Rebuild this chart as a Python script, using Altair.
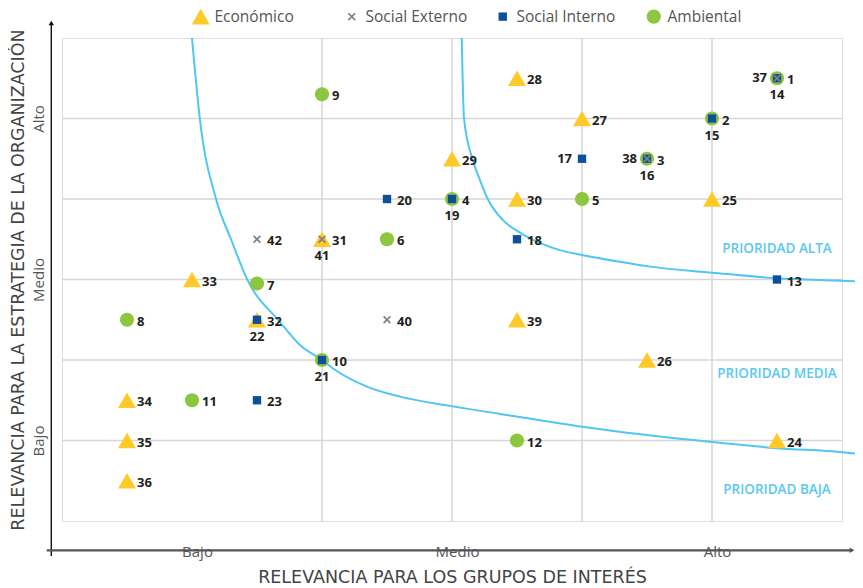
import altair as alt
import pandas as pd

# ---------------- data ----------------
amb_ids = [1, 2, 3, 4, 5, 6, 7, 8, 9, 10, 11, 12]
amb_x = [11, 10, 9, 6, 8, 5, 3, 1, 4, 4, 2, 7]
amb_y = [11, 10, 9, 8, 8, 7, 5.9, 5, 10.6, 4, 3, 2]
amb_pos = ["r"] * 12

eco_ids = [24, 25, 26, 27, 28, 29, 30, 31, 32, 33, 34, 35, 36, 39]
eco_x = [11, 10, 9, 8, 7, 6, 7, 4, 3, 2, 1, 1, 1, 7]
eco_y = [2, 8, 4, 10, 11, 9, 8, 7, 5, 6, 3, 2, 1, 5]
eco_pos = ["r"] * 14

si_ids = [13, 14, 15, 16, 17, 18, 19, 20, 21, 22, 23]
si_x = [11, 11, 10, 9, 8, 7, 6, 5, 4, 3, 3]
si_y = [6, 11, 10, 9, 9, 7, 8, 8, 4, 5, 3]
si_pos = ["r", "b", "b", "b", "l", "r", "b", "r", "b", "b", "r"]

se_ids = [37, 38, 40, 41, 42]
se_x = [11, 9, 5, 4, 3]
se_y = [11, 9, 5, 7, 7]
se_pos = ["l", "l", "r", "b", "r"]

categories = ["Económico", "Social Externo", "Social Interno", "Ambiental"]
cat_colors = ["#FFC928", "#808080", "#0E4F9C", "#8DC63F"]
X_PATH = "M-1,-0.7L-0.7,-1L0,-0.3L0.7,-1L1,-0.7L0.3,0L1,0.7L0.7,1L0,0.3L-0.7,1L-1,0.7L-0.3,0Z"
cat_shapes = ["triangle-up", X_PATH, "square", "circle"]
cat_sizes = [324, 64, 70, 201]

# boundary curves (data units)
c_low_x = [2.0, 2.12, 2.37, 2.6, 2.85, 3.35, 3.66, 4.0, 4.17, 4.69, 5.2, 5.97, 6.74, 8.0,
           10.0, 11.0, 12.0, 12.3]
c_low_y = [12.0, 10.0, 8.0, 7.0, 6.0, 4.95, 4.37, 4.0, 3.79, 3.34, 3.09, 2.86, 2.66, 2.34,
           1.96, 1.81, 1.71, 1.66]
c_high_x = [6.15, 6.185, 6.32, 6.43, 6.55, 6.78, 7.05, 7.35, 7.66, 8.0, 8.58, 9.05, 10.0,
            11.0, 12.0, 12.3]
c_high_y = [12.0, 10.0, 8.97, 8.47, 8.0, 7.48, 7.16, 6.91, 6.73, 6.61, 6.44, 6.32, 6.17,
            6.03, 5.97, 5.95]

grid_x = [4, 6, 8, 10]
grid_y = [2, 4, 6, 8, 10]
tick_vals = [2, 6, 10]
tick_names = ["Bajo", "Medio", "Alto"]

prio_text = ["PRIORIDAD ALTA", "PRIORIDAD MEDIA", "PRIORIDAD BAJA"]
prio_x = [11, 11, 11]
prio_y = [6.76, 3.65, 0.77]

x_title = "RELEVANCIA PARA LOS GRUPOS DE INTERÉS"
y_title = "RELEVANCIA PARA LA ESTRATEGIA DE LA ORGANIZACIÓN"

# ---------------- tables ----------------
rows = []
for cat, ids, xs, ys, ps in [
    ("Ambiental", amb_ids, amb_x, amb_y, amb_pos),
    ("Económico", eco_ids, eco_x, eco_y, eco_pos),
    ("Social Interno", si_ids, si_x, si_y, si_pos),
    ("Social Externo", se_ids, se_x, se_y, se_pos),
]:
    for i, x, y, p in zip(ids, xs, ys, ps):
        rows.append({"id": str(i), "cat": cat, "x": x, "y": y, "pos": p})
pts = pd.DataFrame(rows)

curve_rows = []
for name, xs, ys in [("low", c_low_x, c_low_y), ("high", c_high_x, c_high_y)]:
    for k, (x, y) in enumerate(zip(xs, ys)):
        curve_rows.append({"curve": name, "k": k, "x": x, "y": y})
curves = pd.DataFrame(curve_rows)

FONT = "Open Sans"
TFONT = "DejaVu Sans"
W, H = 780, 483

xs_scale = alt.Scale(domain=[0, 12], nice=False, zero=False)
ys_scale = alt.Scale(domain=[0, 12], nice=False, zero=False)

label_expr = " : ".join(
    [f"datum.value == {v} ? '{n}'" for v, n in zip(tick_vals[:-1], tick_names[:-1])]
) + f" : '{tick_names[-1]}'"


def size_expr(field):
    return " : ".join(
        [f"datum.{field} == '{c}' ? {s}" for c, s in zip(categories[:-1], cat_sizes[:-1])]
    ) + f" : {cat_sizes[-1]}"


x_axis = alt.Axis(values=tick_vals, labelExpr=label_expr, domain=False, ticks=False, tickSize=0,
                  grid=False, labelFontSize=15, labelColor="#555555", labelFont=FONT,
                  labelBaseline="middle", labelPadding=30.5, labelOffset=5,
                  title=x_title, titleFont=TFONT, titleFontSize=17.5, titleFontWeight="normal",
                  titleColor="#444444", titleX=W / 2, titleY=56, titleBaseline="middle",
                  titleAlign="center")
y_axis = alt.Axis(values=tick_vals, labelExpr=label_expr, domain=False, ticks=False, tickSize=0,
                  grid=False, labelFontSize=15, labelColor="#555555", labelFont=FONT,
                  labelAngle=270, labelAlign="center", labelBaseline="middle", labelPadding=24,
                  title=y_title, titleFont=TFONT, titleFontSize=17.5, titleFontWeight="normal",
                  titleColor="#444444", titleX=-43.5, titleY=H / 2, titleAngle=270,
                  titleBaseline="middle", titleAlign="center")

X = alt.X("x:Q", scale=xs_scale, axis=x_axis)
Y = alt.Y("y:Q", scale=ys_scale, axis=y_axis)

gx = alt.Chart(pd.DataFrame({"x": grid_x})).mark_rule(color="#D6D6D6", strokeWidth=1.5).encode(
    x=alt.X("x:Q", scale=xs_scale, axis=x_axis))
gy = alt.Chart(pd.DataFrame({"y": grid_y})).mark_rule(color="#D6D6D6", strokeWidth=1.5).encode(
    y=alt.Y("y:Q", scale=ys_scale, axis=y_axis))

lines = alt.Chart(curves).mark_line(color="#4FC6F4", strokeWidth=2, interpolate="monotone",
                                    clip=False).encode(
    x=alt.X("x:Q", scale=xs_scale, axis=x_axis),
    y=alt.Y("y:Q", scale=ys_scale, axis=y_axis),
    detail="curve:N", order="k:Q")

leg = alt.Legend(title=None, orient="none", legendX=131, legendY=-29.5, direction="horizontal",
                 columns=4, gridAlign="all", columnPadding=27, labelFontSize=15.5,
                 labelColor="#555555", labelFont=FONT, labelOffset=6, padding=0,
                 symbolSize={"expr": size_expr("value")}, symbolStrokeWidth=0, symbolOpacity=1)

points = alt.Chart(pts).transform_calculate(
    sz=size_expr("cat")
).mark_point(filled=True, opacity=1, strokeWidth=0).encode(
    x=X, y=Y,
    color=alt.Color("cat:N", scale=alt.Scale(domain=categories, range=cat_colors), legend=leg),
    shape=alt.Shape("cat:N", scale=alt.Scale(domain=categories, range=cat_shapes), legend=leg),
    size=alt.Size("sz:Q", scale=None, legend=None),
)


def labels(pos, **kw):
    return alt.Chart(pts).transform_filter(alt.datum.pos == pos).mark_text(
        font=FONT, fontSize=13, fontWeight="bold", color="#231F20", baseline="middle", **kw
    ).encode(x=X, y=Y, text="id:N")


lab_r = labels("r", align="left", dx=10, dy=2)
lab_b = labels("b", align="center", dy=17)
lab_l = labels("l", align="right", dx=-10, dy=0)

prio = alt.Chart(pd.DataFrame({"t": prio_text, "x": prio_x, "y": prio_y})).mark_text(
    font=FONT, fontSize=13.5, fontWeight=600, color="#5BC8F2", align="center", baseline="middle"
).encode(x=X, y=Y, text="t:N")

dummy = pd.DataFrame({"a": [0]})
y_line = alt.Chart(dummy).mark_rule(color="#111111", strokeWidth=1.4).encode(
    x=alt.value(-10.7), y=alt.value(-14), y2=alt.value(518))
x_line = alt.Chart(dummy).mark_rule(color="#555555", strokeWidth=2.2).encode(
    x=alt.value(-15.3), x2=alt.value(790), y=alt.value(512.3))
y_arrow = alt.Chart(dummy).mark_point(shape="triangle-up", filled=True, size=30, opacity=1,
                                      color="#111111").encode(x=alt.value(-10.7), y=alt.value(-15))
x_arrow = alt.Chart(dummy).mark_point(shape="triangle-right", filled=True, size=30, opacity=1,
                                      color="#555555").encode(x=alt.value(790), y=alt.value(512.3))

chart = alt.layer(gx, gy, lines, points, lab_r, lab_b, lab_l, prio,
                  y_line, x_line, y_arrow, x_arrow).properties(
    width=W, height=H,
    autosize=alt.AutoSizeParams(type="none"),
    padding={"left": 54, "top": 30, "right": 13, "bottom": 68},
).configure_view(stroke="#D3D3D3", strokeWidth=1.5).configure(background="white")

chart.save("out.html", embed_options={"renderer": "svg", "actions": False})
